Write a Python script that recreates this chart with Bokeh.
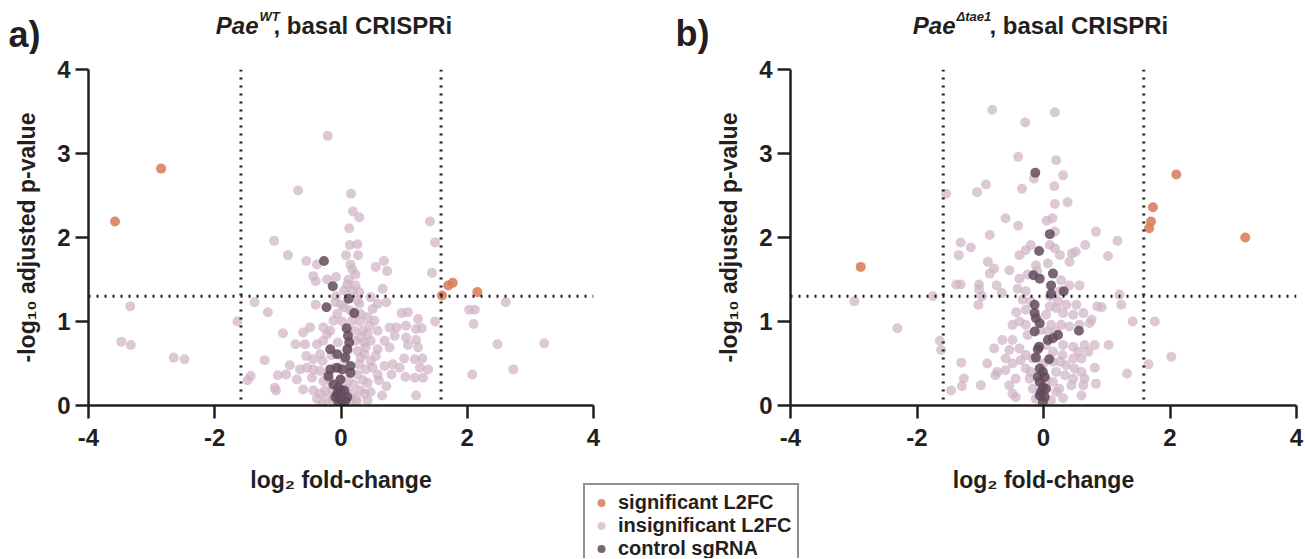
from bokeh.plotting import figure
from bokeh.models import Range1d, Span, Label, Legend, LegendItem, FixedTicker
from bokeh.layouts import row, column
from bokeh.embed import file_html
from bokeh.resources import INLINE

# ---------------- data (log2 fold-change, -log10 adjusted p) ----------------
fc_threshold = 1.585          # |log2 FC| cut-off
p_threshold = 1.301           # -log10(0.05)

a_significant = [(-2.85, 2.82), (-3.58, 2.19), (1.70, 1.43), (1.77, 1.46), (1.60, 1.31), (2.16, 1.35)]
a_control = [(-0.27, 1.72), (-0.13, 1.42), (0.12, 1.27), (0.21, 1.10), (-0.23, 1.17), (0.09, 0.92), (0.11, 0.83),
             (0.13, 0.75), (0.10, 0.67), (-0.17, 0.67), (-0.06, 0.61), (0.07, 0.57), (0.15, 0.47), (-0.17, 0.43),
             (-0.06, 0.45), (0.02, 0.43), (-0.20, 0.35), (-0.01, 0.31), (-0.04, 0.21), (0.05, 0.18), (-0.06, 0.14),
             (0.10, 0.10), (-0.01, 0.08), (0.02, 0.02), (-0.04, 0.04), (0.07, 0.06), (-0.09, 0.10), (-0.01, 0.18),
             (0.15, 0.39), (-0.12, 0.25)]
a_insignificant = [
    (-0.21, 3.21), (-0.68, 2.56), (0.16, 2.52), (0.19, 2.31), (0.29, 2.24), (0.13, 2.11), (0.14, 1.91), (0.26, 1.92),
    (0.08, 1.79), (0.27, 1.79), (-1.06, 1.96), (-0.84, 1.79), (-0.55, 1.72), (-0.38, 1.68), (0.15, 1.68), (0.18, 1.62),
    (0.23, 1.56), (0.55, 1.65), (0.68, 1.72), (0.73, 1.60), (-0.44, 1.54), (-0.40, 1.48), (-0.22, 1.50), (-0.08, 1.53),
    (0.10, 1.44), (0.23, 1.43), (0.66, 1.39), (0.47, 1.29), (0.58, 1.21), (0.72, 1.23), (0.50, 1.15), (1.41, 2.19),
    (1.49, 1.94), (1.44, 1.58), (1.49, 1.00), (-0.40, 1.20), (-0.09, 1.23), (0.26, 1.25), (0.31, 1.09), (0.42, 1.05),
    (0.53, 1.01), (0.96, 1.10), (1.06, 1.11), (1.22, 1.03), (1.03, 0.95), (1.19, 0.91), (1.28, 0.92), (0.88, 0.93),
    (0.77, 0.93), (0.58, 0.89), (0.42, 0.85), (0.69, 0.77), (0.77, 0.69), (0.58, 0.67), (1.03, 0.81), (1.06, 0.72),
    (1.19, 0.78), (1.22, 0.69), (1.17, 0.55), (1.29, 0.56), (1.00, 0.56), (0.82, 0.49), (1.25, 0.45), (1.38, 0.43),
    (1.30, 0.33), (1.17, 0.33), (1.02, 0.34), (1.19, 0.12), (0.58, 0.37), (0.72, 0.23), (0.65, 0.12), (0.42, 0.27),
    (0.31, 0.18), (0.39, 0.43), (0.47, 0.53), (0.37, 0.61), (0.37, 0.75), (0.47, 0.77), (0.34, 0.89), (0.21, 0.89),
    (0.23, 0.77), (0.26, 0.65), (0.29, 0.49), (0.26, 0.37), (0.21, 0.25), (0.18, 0.14), (0.23, 0.08), (-0.12, 1.01),
    (-0.28, 0.93), (-0.49, 0.93), (-0.60, 0.87), (-0.92, 0.86), (-0.72, 0.73), (-0.57, 0.73), (-0.38, 0.73),
    (-0.28, 0.77), (-0.22, 0.85), (-0.33, 0.61), (-0.55, 0.59), (-0.44, 0.55), (-0.29, 0.53), (-1.21, 0.54),
    (-0.81, 0.48), (-1.00, 0.36), (-0.87, 0.37), (-0.65, 0.43), (-0.54, 0.45), (-0.44, 0.43), (-0.33, 0.41),
    (-0.70, 0.31), (-0.46, 0.33), (-0.28, 0.29), (-0.60, 0.19), (-0.44, 0.18), (-0.33, 0.14), (-0.22, 0.08),
    (-0.38, 0.08), (-1.05, 0.21), (-1.03, 0.18), (-1.43, 0.35), (-1.48, 0.30), (-1.64, 1.00), (-1.37, 1.23),
    (-1.16, 1.11), (-0.25, 0.18), (-0.14, 0.18), (0.37, 0.14), (0.47, 0.16), (0.42, 0.06), (0.15, 0.04), (-0.14, 0.06),
    (0.31, 0.57), (0.39, 0.69), (0.31, 0.81), (0.18, 1.01), (0.15, 1.13), (0.29, 1.21), (0.05, 1.17), (-0.06, 1.09),
    (-0.17, 0.89), (0.18, 1.37), (0.29, 1.35), (0.05, 1.37), (0.85, 0.83), (0.55, 0.59), (0.69, 0.47), (0.93, 0.45),
    (0.80, 0.37), (0.00, 0.30), (0.05, 0.55), (-0.05, 0.75), (0.10, 0.65), (0.12, 0.30), (-0.10, 0.45), (0.02, 1.00),
    (0.08, 0.20), (-0.18, 0.30), (0.25, 0.05), (-0.30, 0.02), (0.35, 0.30), (-0.08, 1.30), (0.12, 1.50), (0.00, 1.20),
    (0.30, 1.00), (0.45, 0.95), (-0.15, 0.60), (0.50, 0.45), (0.60, 0.30),
    (2.03, 1.14), (2.12, 1.14), (2.61, 1.23), (2.10, 0.97), (2.48, 0.73), (3.22, 0.74), (2.73, 0.43), (2.08, 0.37),
    (-3.34, 1.18), (-3.48, 0.76), (-3.33, 0.72), (-2.65, 0.57), (-2.48, 0.55)]

b_significant = [(-2.89, 1.65), (2.10, 2.75), (1.73, 2.36), (1.70, 2.19), (1.67, 2.11), (3.19, 2.00)]
b_control = [(-0.13, 2.77), (0.10, 2.04), (-0.07, 1.84), (-0.16, 1.55), (-0.06, 1.51), (0.15, 1.57), (0.12, 1.43),
             (0.12, 1.33), (0.32, 1.36), (-0.14, 1.20), (-0.14, 1.10), (-0.12, 1.04), (-0.06, 0.98), (-0.14, 0.88),
             (0.56, 0.89), (0.23, 0.84), (0.15, 0.80), (0.07, 0.78), (-0.07, 0.70), (-0.09, 0.67), (-0.12, 0.57),
             (0.09, 0.55), (-0.06, 0.44), (-0.01, 0.40), (-0.09, 0.34), (0.02, 0.34), (-0.06, 0.28), (-0.01, 0.22),
             (-0.04, 0.16), (0.02, 0.10), (-0.01, 0.04), (-0.06, 0.12), (0.04, 0.20)]
b_insignificant = [
    (-0.81, 3.52), (0.18, 3.49), (-0.29, 3.37), (-0.40, 2.96), (0.20, 2.92), (-0.15, 2.70), (0.31, 2.74), (-0.91, 2.63),
    (-1.05, 2.54), (-1.54, 2.52), (-0.34, 2.58), (0.17, 2.61), (0.18, 2.40), (0.38, 2.42), (-0.60, 2.23), (0.14, 2.23),
    (-0.40, 2.14), (-0.85, 2.03), (0.18, 2.07), (0.83, 2.07), (1.17, 1.96), (-1.31, 1.94), (-1.15, 1.88), (-1.34, 1.79),
    (0.66, 1.91), (0.51, 1.83), (0.45, 1.81), (1.02, 1.78), (-0.20, 1.91), (-0.28, 1.85), (-0.38, 1.79), (0.10, 1.91),
    (0.18, 1.87), (0.26, 1.79), (0.41, 1.71), (-0.88, 1.71), (-0.78, 1.63), (-0.85, 1.57), (-0.54, 1.61), (-0.38, 1.51),
    (-0.25, 1.56), (-0.12, 1.67), (0.07, 1.69), (0.28, 1.49), (0.41, 1.43), (0.57, 1.43), (-1.38, 1.44), (-1.31, 1.44),
    (-1.02, 1.44), (-1.02, 1.38), (-0.74, 1.43), (-0.97, 1.30), (-0.66, 1.34), (-0.41, 1.39), (-0.28, 1.36),
    (-1.75, 1.30), (-2.99, 1.24), (-1.03, 1.20), (-2.31, 0.92), (1.20, 1.32), (1.23, 1.20), (0.92, 1.17), (0.85, 1.18),
    (1.41, 1.00), (1.76, 1.00), (0.52, 1.20), (0.36, 1.20), (0.20, 1.16), (0.31, 1.10), (0.47, 1.08), (0.63, 1.10),
    (0.76, 1.02), (0.73, 0.98), (0.57, 0.96), (0.41, 0.94), (0.28, 0.96), (-0.43, 1.11), (-0.38, 1.00), (-0.49, 0.96),
    (-0.28, 0.96), (-0.25, 0.84), (-0.49, 0.78), (-0.65, 0.78), (-0.54, 0.66), (-0.78, 0.68), (-0.38, 0.68),
    (-0.28, 0.60), (-0.36, 0.54), (-0.60, 0.56), (-0.49, 0.50), (-0.89, 0.50), (-1.30, 0.51), (-1.64, 0.77),
    (-1.62, 0.66), (-0.73, 0.40), (-0.60, 0.42), (-0.44, 0.32), (-0.54, 0.24), (-0.49, 0.14), (-0.44, 0.10),
    (-0.76, 0.36), (-1.26, 0.32), (-1.29, 0.23), (-0.99, 0.24), (-1.46, 0.18), (-0.28, 0.44), (-0.22, 0.32),
    (-0.17, 0.20), (-0.12, 0.08), (0.15, 0.64), (0.31, 0.72), (0.47, 0.70), (0.65, 0.72), (0.81, 0.72), (1.03, 0.72),
    (0.55, 0.64), (0.71, 0.64), (0.47, 0.56), (0.60, 0.56), (0.81, 0.45), (0.49, 0.44), (0.60, 0.40), (0.36, 0.48),
    (0.26, 0.52), (0.20, 0.40), (0.34, 0.36), (0.47, 0.32), (0.65, 0.32), (0.44, 0.24), (0.63, 0.24), (0.83, 0.26),
    (0.60, 0.12), (0.31, 0.09), (0.20, 0.16), (0.15, 0.28), (0.12, 0.06), (1.32, 0.38), (1.66, 0.49), (2.02, 0.58),
    (0.26, 1.36), (0.23, 1.24), (0.10, 1.18), (0.04, 1.08), (0.12, 0.96), (0.07, 0.88), (0.20, 0.88), (-0.28, 1.14),
    (-0.20, 1.24), (-0.33, 1.26), (0.04, 0.72), (-0.17, 0.56), (0.15, 0.52), (0.00, 0.50), (0.05, 0.30), (-0.05, 0.90),
    (0.10, 1.30), (-0.10, 1.60), (0.05, 2.20), (0.30, 0.60), (-0.20, 0.40), (0.00, 0.15), (0.25, 0.20)]

x_ticks = [-4, -2, 0, 2, 4]
y_ticks = [0, 1, 2, 3, 4]
legend_labels = ["significant L2FC", "insignificant L2FC", "control sgRNA"]

# ---------------- style ----------------
FONT = "Liberation Sans"
INK = "#231f20"
C_SIG, A_SIG = "#d9805f", 0.9
C_INS, A_INS = "#cfb0c3", 0.7
C_CTL, A_CTL = "#634a5c", 0.85
HEADER_H = 54
ROW_H = 449
TOP, BOTTOM = 15, 98


def split(pairs):
    return [p[0] for p in pairs], [p[1] for p in pairs]


def make_panel(width, left, right, ins, ctl, sig):
    p = figure(width=width, height=ROW_H, x_range=Range1d(-4, 4), y_range=Range1d(0, 4),
               output_backend="svg", toolbar_location=None,
               min_border_left=left, min_border_right=right,
               min_border_top=TOP, min_border_bottom=BOTTOM)
    p.grid.visible = False
    p.outline_line_color = None
    p.background_fill_color = "white"
    p.border_fill_alpha = 0
    for ax in (p.xaxis[0], p.yaxis[0]):
        ax.axis_line_width = 2.5
        ax.axis_line_color = INK
        ax.major_tick_line_width = 2.5
        ax.major_tick_line_color = INK
        ax.major_tick_out = 13
        ax.major_tick_in = 0
        ax.minor_tick_line_color = None
        ax.major_label_text_font = FONT
        ax.major_label_text_font_size = "24px"
        ax.major_label_text_font_style = "bold"
        ax.major_label_text_color = INK
        ax.axis_label_text_font = FONT
        ax.axis_label_text_font_size = "23px"
        ax.axis_label_text_font_style = "bold"
        ax.axis_label_text_color = INK
    p.xaxis.ticker = FixedTicker(ticks=x_ticks)
    p.yaxis.ticker = FixedTicker(ticks=y_ticks)
    p.xaxis.major_label_overrides = {t: str(t) for t in x_ticks}
    p.yaxis.major_label_overrides = {t: str(t) for t in y_ticks}
    p.xaxis.axis_label = "log₂ fold-change"
    p.yaxis.axis_label = "-log₁₀ adjusted p-value"
    p.xaxis.major_label_standoff = 10
    p.xaxis.axis_label_standoff = 18
    p.yaxis.major_label_standoff = 5
    p.yaxis.axis_label_standoff = 14

    for loc in (-fc_threshold, fc_threshold):
        p.add_layout(Span(location=loc, dimension="height", line_color=INK, line_width=3, line_dash="2 6"))
    p.add_layout(Span(location=p_threshold, dimension="width", line_color=INK, line_width=3, line_dash="2 6"))

    ix, iy = split(ins)
    cx, cy = split(ctl)
    sx, sy = split(sig)
    p.scatter(x=ix, y=iy, size=10, fill_color=C_INS, fill_alpha=A_INS, line_color=None)
    p.scatter(x=cx, y=cy, size=10, fill_color=C_CTL, fill_alpha=A_CTL, line_color=None)
    p.scatter(x=sx, y=sy, size=10, fill_color=C_SIG, fill_alpha=A_SIG, line_color=None)
    return p


pa = make_panel(648, 88, 55, a_insignificant, a_control, a_significant)
pb = make_panel(656, 142, 8, b_insignificant, b_control, b_significant)

# header strip with panel letters and mixed-style titles
hd = figure(width=1304, height=HEADER_H, x_range=Range1d(0, 1304), y_range=Range1d(HEADER_H, 0),
            output_backend="svg", toolbar_location=None, min_border=0, title=None,
            x_axis_location=None, y_axis_location=None)
hd.grid.visible = False
hd.outline_line_color = None
hd.background_fill_alpha = 0
hd.border_fill_alpha = 0


def put(px, py, text, size, style="bold", align="left"):
    hd.add_layout(Label(x=px, y=py, text=text, text_font=FONT, text_font_size=f"{size}px",
                        text_font_style=style, text_color=INK, text_align=align,
                        text_baseline="alphabetic"))


put(8, 34, "a)", 36)
put(258, 25, "Pae", 24, "bold italic", "right")
put(259, 16, "WT", 13, "bold italic")
put(273, 25, ", basal CRISPRi", 24)
put(675, 33, "b)", 36)
put(955, 25, "Pae", 24, "bold italic", "right")
put(956, 16, "Δtae1", 13, "bold italic")
put(989, 25, ", basal CRISPRi", 24)

# legend figure, overlapping the gap beneath the two panels
lg = figure(width=240, height=76, x_range=Range1d(0, 1), y_range=Range1d(0, 1),
            output_backend="svg", toolbar_location=None, min_border=0,
            x_axis_location=None, y_axis_location=None, margin=(-21, 0, 0, 582))
lg.grid.visible = False
lg.outline_line_color = None
lg.background_fill_alpha = 0
lg.border_fill_alpha = 0
# one point from each series (outside this strip's range) so the legend has a glyph to draw
r_sig = lg.scatter(x=split(a_significant)[0][:1], y=split(a_significant)[1][:1], size=9,
                   fill_color=C_SIG, fill_alpha=A_SIG, line_color=None)
r_ins = lg.scatter(x=split(a_insignificant)[0][:1], y=split(a_insignificant)[1][:1], size=9,
                   fill_color=C_INS, fill_alpha=A_INS, line_color=None)
r_ctl = lg.scatter(x=split(a_control)[0][:1], y=split(a_control)[1][:1], size=9,
                   fill_color=C_CTL, fill_alpha=A_CTL, line_color=None)
legend = Legend(items=[LegendItem(label=legend_labels[0], renderers=[r_sig]),
                       LegendItem(label=legend_labels[1], renderers=[r_ins]),
                       LegendItem(label=legend_labels[2], renderers=[r_ctl])],
                location="top_left", margin=1, padding=6, spacing=0,
                label_height=21, glyph_width=20, glyph_height=21, label_standoff=7,
                label_text_font=FONT, label_text_font_size="20px", label_text_font_style="bold",
                label_text_color=INK, border_line_color=INK, border_line_width=2,
                background_fill_color="white", background_fill_alpha=1)
lg.add_layout(legend)

layout = column(hd, row(pa, pb), lg)
open("out.html", "w").write(file_html(layout, INLINE))
